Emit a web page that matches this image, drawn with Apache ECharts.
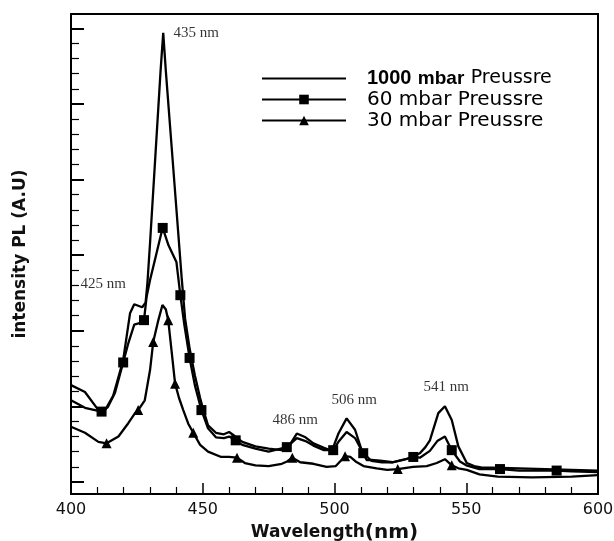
<!DOCTYPE html>
<html>
<head>
<meta charset="utf-8">
<script src="https://cdn.jsdelivr.net/npm/echarts@6/dist/echarts.min.js"></script>
<style>
html,body{margin:0;padding:0;background:#fff;}
#chart{width:614px;height:541px;}
</style>
</head>
<body>
<div id="chart"></div>
<script>
// ---- data (wavelength in nm, intensity in arbitrary units) ----
const wl1000 = [400,405.3,410.4,412.3,416,419.8,422.4,424,427,428.3,429,430,432,434,435,436,438,440,442,443.3,445,447,449,450,452,455,458,460,462,465,470,475,480,483,485.7,489,492,496,499,501.5,504.6,507.8,510.3,512.2,514,517.3,522,527,528.7,532.4,534.5,536.2,539.4,541.9,544.5,547,550.2,553,556,560,570,580,590,600];
const int1000 = [144,135,111,107,130,177,239,251,247,253,279,332,446,560,610,559,468,377,286,232,193,157,127,114,91,81,79,82,77,69,63,60,58,65,80,75,67,61,57,80,100,85,58,45,45,44,42,46,48,54,62,71,107,116,98,63,41,37,35,35,34,33,32,31];

const wl60 = [400,405.3,411.6,414,416.7,419.8,421.8,424,426,427.7,428.7,430,432,434,434.8,437,440,441.5,443,445,447,449.5,452,455,458,460,462.5,465,470,475,481.9,485.7,489,492,496,499.5,501.5,504.6,507.8,510.9,514,518,522,526,529.9,532.4,536.2,539,541.9,544.5,547.6,550,555,562.8,570,584.3,590,600];
const int60 = [124,114,109,115,134,174,200,224,226,230,261,283,312,341,352,329,307,263,224,180,144,111,87,75,74,76,71,65,60,56,62,74,70,64,58,58,69,82,74,54,44,42,42,45,49,48,57,70,76,58,43,38,33,33,31,31,30,29];
const markers60 = [411.6,419.8,427.7,434.8,441.5,445,449.5,462.5,481.9,499.5,510.9,529.9,544.5,562.8,584.3];

const wl30 = [400,405.3,410.4,413.5,418,421.8,424.3,425.5,428,430,431.2,433,434.7,436,436.9,438.3,439.5,441,442.6,444.5,446.4,449,452,457,460,463,466,470,475,480,482,484,487,492,497,500.5,504,506,508,511,516,520,524,529.8,535,538.8,541.9,544.5,547,550.2,555,562,575,590,600];
const int30 = [89,81,69,67,76,94,107,111,124,164,201,228,250,244,230,185,146,127,111,93,81,65,56,49,49,48,41,38,37,40,43,48,42,40,36,37,50,49,43,37,34,32,33,36,37,41,46,38,34,32,26,23,22,23,25];
const markers30 = [413.5,425.5,431.2,436.9,439.5,446.4,463,484,504,524,544.5];

const seriesNames = ['1000 mbar Preussre','60 mbar Preussre','30 mbar Preussre'];

const xTicks = [400,450,500,550,600];
const yMajorTicks = [16,116,216,316,416,516,616];
const yMinorTicks = [];
for (let v = 16; v <= 635; v += 20) { if (!yMajorTicks.includes(v)) yMinorTicks.push(v); }

// peak annotations: [label, wavelength (left edge of text), intensity (text centre)]
const peakLabels = [
  ['435 nm', 438.7, 610],
  ['425 nm', 403.4, 278],
  ['486 nm', 476.3, 98],
  ['506 nm', 498.7, 124],
  ['541 nm', 533.6, 141]
];

function buildData(wl, vals, markers, sym) {
  return wl.map((x, i) => {
    const item = { value: [x, vals[i]] };
    if (!markers || !markers.includes(x)) item.symbol = 'none';
    else item.symbol = sym;
    return item;
  });
}

const chart = echarts.init(document.getElementById('chart'), null, {renderer: 'canvas'});
const lineCommon = {
  type: 'line',
  smooth: false,
  lineStyle: { color: '#000', width: 2.3 },
  itemStyle: { color: '#000' },
  showAllSymbol: true,
  animation: false,
  z: 3
};

const legendFont = 20;

chart.setOption({
  backgroundColor: '#fff',
  animation: false,
  grid: { left: 71, right: 16, top: 14, bottom: 47, show: true, borderColor: '#000', borderWidth: 2,
    backgroundColor: 'transparent', containLabel: false, outerBoundsMode: 'none' },
  legend: {
    data: [
      { name: seriesNames[0], icon: 'path://M0,0 H100 V2.6 H0 Z' },
      { name: seriesNames[1] },
      { name: seriesNames[2] }
    ],
    orient: 'vertical',
    left: 261,
    top: 68,
    padding: 0,
    itemWidth: 84,
    itemHeight: 12,
    itemGap: 0,
    textStyle: {
      fontFamily: 'DejaVu Sans',
      fontSize: legendFont,
      lineHeight: 21,
      color: '#000',
      padding: [0, 0, 0, 16],
      rich: {
        b: { fontFamily: 'Liberation Sans', fontWeight: 'bold', fontSize: 20, lineHeight: 21, color: '#000' },
        m: { fontFamily: 'Liberation Sans', fontWeight: 'bold', fontSize: 19, lineHeight: 21, color: '#000' },
        r: { fontFamily: 'DejaVu Sans', fontSize: 19, lineHeight: 21, color: '#000' }
      }
    },
    formatter: function (name) {
      if (name === seriesNames[0]) return '{b|1000} {m|mbar} {r|Preussre}';
      return name;
    }
  },
  xAxis: {
    type: 'value',
    min: 400, max: 600, interval: 50,
    name: '{a|Wavelength}{b|(nm)}',
    nameLocation: 'middle',
    nameGap: 22,
    nameTextStyle: {
      rich: {
        a: { fontFamily: 'DejaVu Sans', fontWeight: 'bold', fontSize: 17, color: '#111' },
        b: { fontFamily: 'DejaVu Sans', fontWeight: 'bold', fontSize: 20, color: '#111' }
      }
    },
    axisLine: { show: true, lineStyle: { color: '#000', width: 2 } },
    axisTick: { show: true, inside: true, length: 11, lineStyle: { color: '#000', width: 1.5 } },
    minorTick: { show: true, splitNumber: 5, length: 7, lineStyle: { color: '#000', width: 1.2 } },
    axisLabel: { show: true, margin: 8, fontFamily: 'DejaVu Sans', fontSize: 16, color: '#111',
      customValues: xTicks },
    splitLine: { show: false },
    minorSplitLine: { show: false }
  },
  yAxis: [
    {
      type: 'value',
      min: 0, max: 635,
      position: 'left',
      name: 'intensity PL (A.U)',
      nameLocation: 'middle',
      nameGap: 42,
      nameTextStyle: { fontFamily: 'DejaVu Sans', fontWeight: 'bold', fontSize: 17, color: '#111' },
      axisLine: { show: true, lineStyle: { color: '#000', width: 2 } },
      axisTick: { show: true, inside: true, length: 13, customValues: yMajorTicks, lineStyle: { color: '#000', width: 2 } },
      axisLabel: { show: false },
      splitLine: { show: false }
    },
    {
      type: 'value',
      min: 0, max: 635,
      position: 'left',
      axisLine: { show: false },
      axisTick: { show: true, inside: true, length: 8, customValues: yMinorTicks, lineStyle: { color: '#000', width: 1.2 } },
      axisLabel: { show: false },
      splitLine: { show: false }
    }
  ],
  series: [
    Object.assign({}, lineCommon, {
      name: seriesNames[0],
      symbol: 'none',
      data: buildData(wl1000, int1000, null, 'none')
    }),
    Object.assign({}, lineCommon, {
      name: seriesNames[1],
      symbol: 'rect',
      symbolSize: 10,
      data: buildData(wl60, int60, markers60, 'rect')
    }),
    Object.assign({}, lineCommon, {
      name: seriesNames[2],
      symbol: 'triangle',
      symbolSize: 10,
      data: buildData(wl30, int30, markers30, 'triangle')
    }),
    {
      type: 'scatter',
      name: 'peaks',
      silent: true,
      symbolSize: 1,
      itemStyle: { color: 'rgba(0,0,0,0)' },
      label: {
        show: true,
        position: 'right',
        distance: 0,
        fontFamily: 'Liberation Serif',
        fontSize: 15,
        color: '#000',
        formatter: p => p.data.name
      },
      data: peakLabels.map(d => ({ name: d[0], value: [d[1], d[2]] })),
      z: 5
    }
  ]
});
</script>
</body>
</html>
